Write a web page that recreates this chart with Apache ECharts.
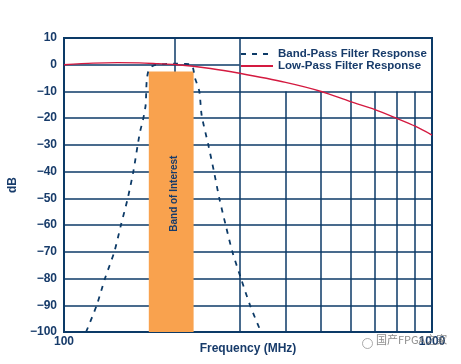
<!DOCTYPE html>
<html><head><meta charset="utf-8">
<script src="https://cdn.jsdelivr.net/npm/echarts@6/dist/echarts.min.js"></script>
<style>html,body{margin:0;padding:0;background:#fff}#c{width:461px;height:364px}</style>
</head><body><div id="c"></div>
<script>
// Band-pass filter response (frequency MHz, dB)
const bpFreq = [114.8,122.7,129.2,137,142.8,149,154.3,158.6,161,164.3,166.7,167.8,170.2,175,185,200,212,222.3,227,233.2,236.7,246.7,255.6,264.3,275,286.8,302.7,320.3,343];
const bpDb   = [-100,-90,-80,-70,-60,-50,-40,-30,-25,-20,-15,-6,-1.6,-0.3,0.2,0.4,0.3,0,-5,-10,-19,-30,-40,-50,-60,-70,-80,-90,-100];
// Low-pass filter response
const lpFreq = [100,120,140,160,180,200,250,300,400,500,600,700,800,900,1000];
const lpDb   = [0,0.6,0.8,0.7,0.4,0.1,-1.4,-3.2,-6.6,-10,-13.8,-16.8,-20,-23,-26.3];
// Band of interest
const bandStart = 170, bandEnd = 225, bandTop = -2.5, bandBottom = -100;
// Axis ranges / ticks
const xMin = 100, xMax = 1000;
const yMin = -100, yMax = 10, yStep = 10;
const vGridFull = [200, 300];
const vGridPartial = [400, 500, 600, 700, 800, 900];
const hGridShort = [0];
const hGridFull = [-10,-20,-30,-40,-50,-60,-70,-80,-90];

const NAVY = '#0c3a67', TEXT = '#173b6a', RED = '#d41a40', ORANGE = '#f9a24e';
const FONT = 'Liberation Sans, Arial, sans-serif';

const gridLines = [];
vGridFull.forEach(f => gridLines.push([{coord:[f, yMax]},{coord:[f, yMin]}]));
vGridPartial.forEach(f => gridLines.push([{coord:[f, -10]},{coord:[f, yMin]}]));
hGridShort.forEach(v => gridLines.push([{coord:[xMin, v]},{coord:[300, v]}]));
hGridFull.forEach(v => gridLines.push([{coord:[xMin, v]},{coord:[xMax, v]}]));

const chart = echarts.init(document.getElementById('c'), null, {renderer:'canvas'});
chart.setOption({
  animation: false,
  backgroundColor: '#fff',
  grid: {left: 64, right: 29, top: 38, bottom: 32, containLabel: false, outerBoundsMode: 'none',
    show: true, borderColor: NAVY, borderWidth: 2, backgroundColor: '#fff'},
  legend: {
    orient: 'vertical', left: 240, top: 48, padding: 0, itemGap: 0,
    itemWidth: 32, itemHeight: 10,
    itemStyle: {opacity: 0},
    data: ['Band-Pass Filter Response', 'Low-Pass Filter Response'],
    textStyle: {color: TEXT, fontFamily: FONT, fontWeight: 'bold', fontSize: 11.5, lineHeight: 12}
  },
  xAxis: {
    type: 'log', logBase: 10, min: xMin, max: xMax,
    name: 'Frequency (MHz)', nameLocation: 'middle', nameGap: 11, nameMoveOverlap: false,
    nameTextStyle: {color: TEXT, fontFamily: FONT, fontWeight: 'bold', fontSize: 12},
    axisLine: {show: false}, axisTick: {show: false}, splitLine: {show: false}, minorSplitLine:{show:false},
    axisLabel: {color: TEXT, fontFamily: FONT, fontWeight: 'bold', fontSize: 12, margin: 4,
      formatter: v => String(Math.round(v))}
  },
  yAxis: {
    type: 'value', min: yMin, max: yMax, interval: yStep,
    name: 'dB', nameLocation: 'middle', nameGap: 32, nameRotate: 90,
    nameTextStyle: {color: TEXT, fontFamily: FONT, fontWeight: 'bold', fontSize: 12, padding: [0,0,12,0]},
    axisLine: {show: false}, axisTick: {show: false}, splitLine: {show: false},
    axisLabel: {color: TEXT, fontFamily: FONT, fontWeight: 'bold', fontSize: 12, margin: 7,
      formatter: v => String(v).replace('-', '\u2212')}
  },
  graphic: [
    {type: 'text', left: 376, top: 334, z: 100, style: {text: '国产FPGA之家', fill: 'rgba(120,120,120,0.85)', font: '11px "Noto Sans CJK SC", sans-serif'}},
    {type: 'circle', left: 360, top: 336, z: 100, shape: {r: 5}, style: {fill: 'none', stroke: 'rgba(150,150,150,0.8)', lineWidth: 1}}
  ],
  series: [
    {
      type: 'line', name: '_grid', data: [], z: 1, silent: true,
      markLine: {z: 1, silent: true, symbol: 'none', label: {show: false}, animation: false,
        lineStyle: {color: NAVY, width: 1.5, type: 'solid'}, emphasis: {disabled: true},
        data: gridLines}
    },
    {
      type: 'line', name: '_band', data: [], z: 2, silent: true,
      markArea: {z: 2, silent: true, itemStyle: {color: ORANGE, opacity: 1},
        label: {show: true, position: 'inside', rotate: 90, offset: [8, 3], formatter: 'Band of Interest',
          color: TEXT, fontFamily: FONT, fontSize: 10, fontWeight: 'bold'},
        data: [[{coord: [bandStart, bandBottom]}, {coord: [bandEnd, bandTop]}]]}
    },
    {
      type: 'line', name: 'Band-Pass Filter Response', z: 3,
      data: bpFreq.map((f, i) => [f, bpDb[i]]),
      smooth: 0.25, showSymbol: false, symbol: 'none',
      lineStyle: {color: NAVY, width: 1.8, type: [5, 6]}, itemStyle: {color: NAVY}
    },
    {
      type: 'line', name: 'Low-Pass Filter Response', z: 4,
      data: lpFreq.map((f, i) => [f, lpDb[i]]),
      smooth: 0.3, showSymbol: false, symbol: 'none',
      lineStyle: {color: RED, width: 1.4}, itemStyle: {color: RED}
    }
  ]
});
</script></body></html>
